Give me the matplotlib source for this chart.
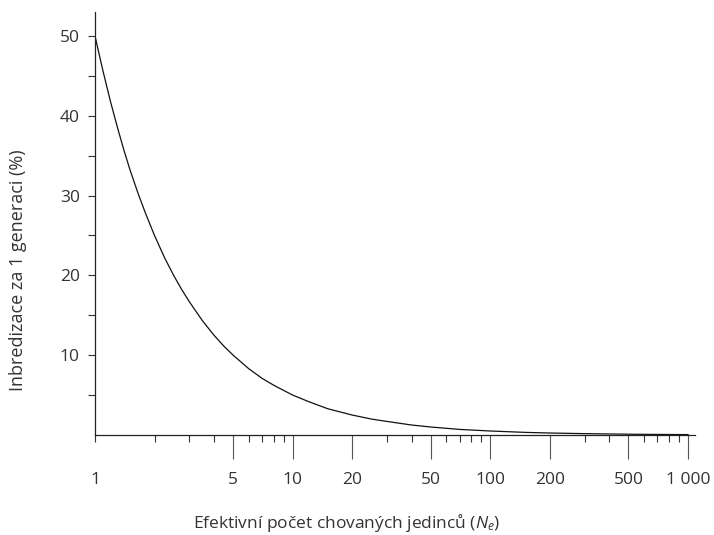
import matplotlib
matplotlib.use("Agg")
import matplotlib.pyplot as plt

# efektivni pocet jedincu a inbreeding za generaci (%)
ne_values = [1, 1.1, 1.2, 1.3, 1.4, 1.5, 1.65, 1.8, 2, 2.25, 2.5, 2.75, 3, 3.5, 4,
             4.5, 5, 6, 7, 8, 10, 12, 15, 20, 25, 30, 40, 50, 70, 100, 150, 200,
             300, 500, 700, 1000]
inbreeding = [50, 45.5, 41.7, 38.5, 35.7, 33.3, 30.3, 27.8, 25, 22.2, 20, 18.2,
              16.7, 14.3, 12.5, 11.1, 10, 8.3, 7.1, 6.25, 5, 4.2, 3.3, 2.5, 2.0,
              1.7, 1.25, 1.0, 0.7, 0.5, 0.33, 0.25, 0.17, 0.1, 0.07, 0.05]

x_major = [5, 10, 20, 50, 100, 200, 500, 1000]
x_major_labels = ["5", "10", "20", "50", "100", "200", "500", "1 000"]
x_minor = [1, 2, 3, 4, 6, 7, 8, 9, 30, 40, 60, 70, 80, 90,
           300, 400, 600, 700, 800, 900]
x_minor_labels = ["1"] + [""] * (len(x_minor) - 1)
y_major = [10, 20, 30, 40, 50]
y_minor = [5, 15, 25, 35, 45]

plt.rcParams['font.family'] = ['Open Sans', 'DejaVu Sans']
plt.rcParams['mathtext.fontset'] = 'custom'
plt.rcParams['mathtext.rm'] = 'Open Sans'
plt.rcParams['mathtext.it'] = 'Open Sans:italic'

txt = '#333333'
fs = 12.5
fig = plt.figure(figsize=(7.14, 5.35), dpi=100)
ax = fig.add_axes([95 / 714, 1 - 435 / 535, 600 / 714, 423 / 535])

ax.plot(ne_values, inbreeding, color='#111111', lw=0.9)

ax.set_xscale('log')
ax.set_xlim(1, 1085)
ax.set_ylim(0, 53)

ax.set_xticks(x_major, labels=x_major_labels)
ax.set_xticks(x_minor, labels=x_minor_labels, minor=True)
ax.set_yticks(y_major)
ax.set_yticks(y_minor, minor=True)

ax.tick_params(axis='x', which='major', length=17, width=0.8, color='#555555',
               pad=9.5, labelsize=fs, labelcolor=txt)
ax.tick_params(axis='x', which='minor', length=5, width=0.8, color='#333333',
               pad=21.5, labelsize=fs, labelcolor=txt)
ax.tick_params(axis='y', which='both', length=5, width=0.8, color='#333333',
               pad=6, labelsize=fs, labelcolor=txt)

for side in ['top', 'right']:
    ax.spines[side].set_visible(False)
for side in ['left', 'bottom']:
    ax.spines[side].set_linewidth(0.9)
    ax.spines[side].set_color('#222222')

fig.text(18 / 714, 1 - 270 / 535, 'Inbredizace za 1 generaci (%)', rotation=90,
         ha='center', va='center', fontsize=13, color=txt)
fig.text(347 / 714, 1 - 528 / 535,
         r'Efektivní počet chovaných jedinců ($\mathit{N}_{\mathit{e}}$)',
         ha='center', va='baseline', fontsize=fs, color=txt)

fig.savefig('out.png', dpi=100)
